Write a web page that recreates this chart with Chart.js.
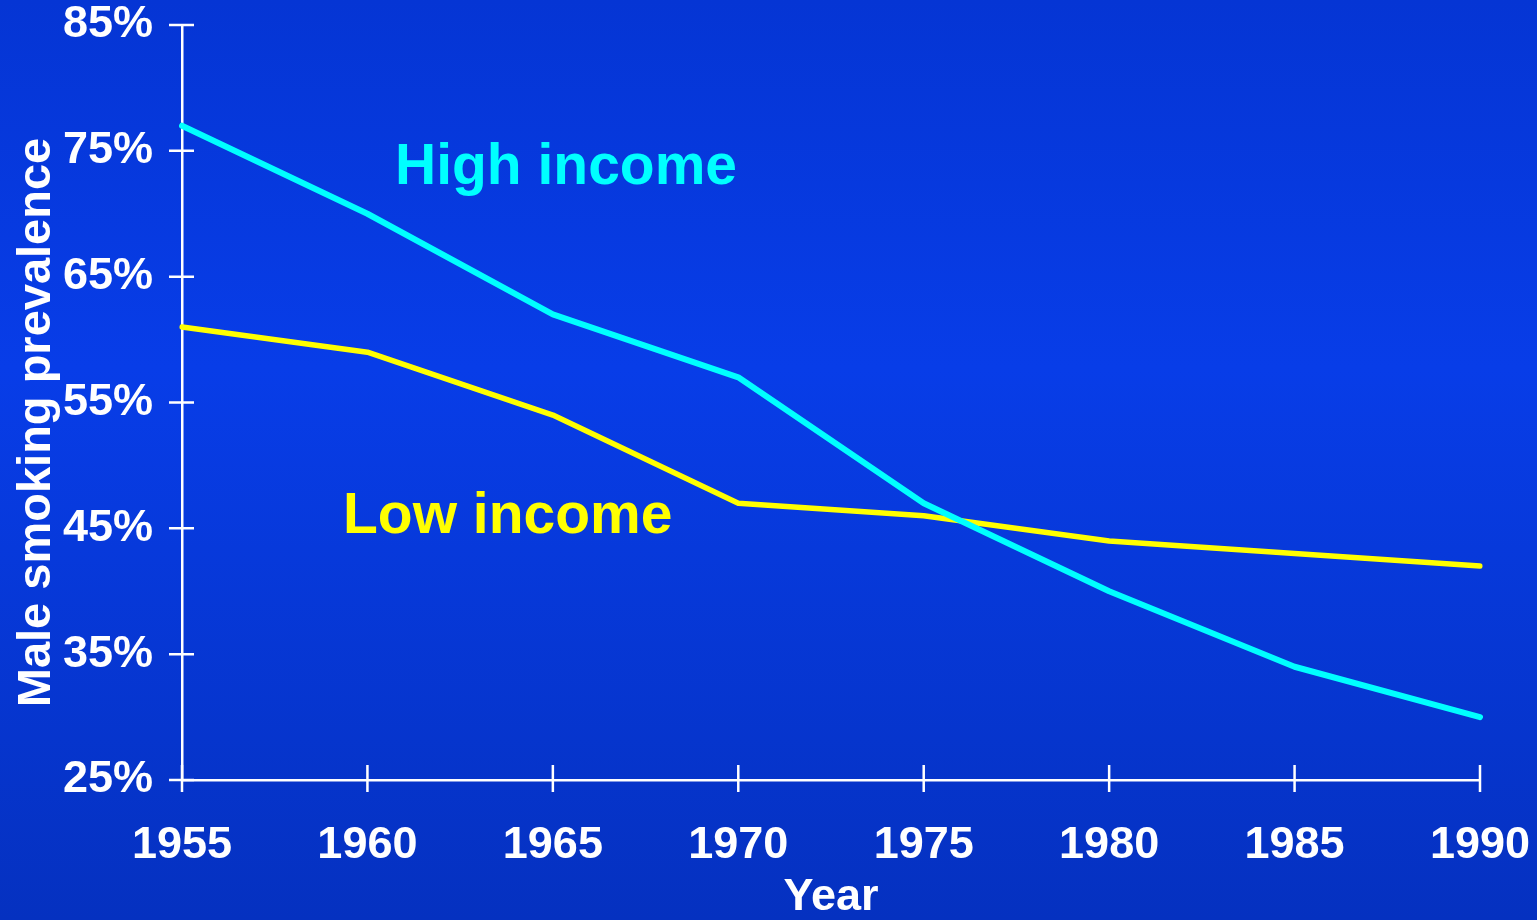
<!DOCTYPE html>
<html>
<head>
<meta charset="utf-8">
<script src="https://cdn.jsdelivr.net/npm/chart.js@4"></script>
<style>
  html, body { margin: 0; padding: 0; background: #0638d8; }
  #wrap { width: 1537px; height: 920px; position: relative; }
</style>
</head>
<body>
<div id="wrap"><canvas id="smokingChart"></canvas></div>
<script>
// Chart data
const years = ['1955', '1960', '1965', '1970', '1975', '1980', '1985', '1990'];
const highIncome = [77, 70, 62, 57, 47, 40, 34, 30];
const lowIncome = [61, 59, 54, 47, 46, 44, 43, 42];
const yTicks = [25, 35, 45, 55, 65, 75, 85];

const FONT = '"Liberation Sans", Arial, sans-serif';

// background gradient behind everything
const bgPlugin = {
    id: 'bg',
    beforeDraw(chart) {
        const ctx = chart.ctx;
        const g = ctx.createLinearGradient(0, 0, 0, chart.height);
        g.addColorStop(0, '#0535d4');
        g.addColorStop(0.4, '#083de8');
        g.addColorStop(1, '#0531c0');
        ctx.save();
        ctx.fillStyle = g;
        ctx.fillRect(0, 0, chart.width, chart.height);
        ctx.restore();
    }
};

// tick marks that cross the axis lines, plus the y title
const crossTicks = {
    id: 'crossTicks',
    afterDraw(chart) {
        const ctx = chart.ctx;
        const xs = chart.scales.x, ys = chart.scales.y;
        ctx.save();
        ctx.strokeStyle = '#ffffff';
        ctx.lineWidth = 2.5;
        ctx.beginPath();
        ys.ticks.forEach((t, i) => {
            const py = ys.getPixelForTick(i);
            ctx.moveTo(xs.left - 13, py);
            ctx.lineTo(xs.left + 12, py);
        });
        xs.ticks.forEach((t, i) => {
            const px = xs.getPixelForTick(i);
            ctx.moveTo(px, ys.bottom - 15);
            ctx.lineTo(px, ys.bottom + 12);
        });
        ctx.stroke();

        // y axis title
        ctx.translate(50, (ys.top + ys.bottom) / 2 + 20);
        ctx.rotate(-Math.PI / 2);
        ctx.fillStyle = '#ffffff';
        ctx.font = 'bold 47px ' + FONT;
        ctx.textAlign = 'center';
        ctx.textBaseline = 'alphabetic';
        ctx.fillText('Male smoking prevalence', 0, 0);
        ctx.restore();
    }
};

// series labels inside the plot
const seriesLabels = {
    id: 'seriesLabels',
    afterDatasetsDraw(chart) {
        const ctx = chart.ctx;
        ctx.save();
        ctx.font = 'bold 57px ' + FONT;
        ctx.textBaseline = 'alphabetic';
        ctx.textAlign = 'left';
        ctx.fillStyle = '#00ffff';
        ctx.fillText('High income', 395, 184);
        ctx.fillStyle = '#ffff00';
        ctx.fillText('Low income', 343, 533);
        ctx.restore();
    }
};

const ctx = document.getElementById('smokingChart');
new Chart(ctx, {
    type: 'line',
    data: {
        labels: years,
        datasets: [
            {
                label: 'High income',
                data: highIncome,
                borderColor: '#00ffff',
                borderWidth: 6,
                pointRadius: 0,
                borderCapStyle: 'round',
                borderJoinStyle: 'round',
                tension: 0
            },
            {
                label: 'Low income',
                data: lowIncome,
                borderColor: '#ffff00',
                borderWidth: 5.5,
                pointRadius: 0,
                borderCapStyle: 'round',
                borderJoinStyle: 'round',
                tension: 0
            }
        ]
    },
    options: {
        responsive: true,
        maintainAspectRatio: false,
        animation: false,
        layout: {
            padding: { left: 0, top: 25, right: 57, bottom: 0 }
        },
        plugins: {
            legend: { display: false },
            tooltip: { enabled: false },
            title: { display: false }
        },
        scales: {
            x: {
                type: 'category',
                offset: false,
                afterFit(scale) {
                    scale.height = 140;
                    scale.paddingLeft = 0;
                    scale.paddingRight = 0;
                },
                grid: { display: false, drawTicks: false },
                border: { display: true, color: '#ffffff', width: 2.5 },
                ticks: {
                    color: '#ffffff',
                    padding: 39,
                    maxRotation: 0,
                    autoSkip: false,
                    font: { family: FONT, size: 45, weight: 'bold' }
                },
                title: {
                    display: true,
                    text: 'Year',
                    color: '#ffffff',
                    padding: { top: 0, bottom: 0 },
                    font: { family: FONT, size: 45, weight: 'bold', lineHeight: 1 }
                }
            },
            y: {
                min: 25,
                max: 85,
                afterFit(scale) {
                    scale.width = 182;
                    scale.paddingTop = 0;
                    scale.paddingBottom = 0;
                },
                afterBuildTicks(scale) {
                    scale.ticks = yTicks.map(v => ({ value: v }));
                },
                grid: { display: false, drawTicks: false },
                border: { display: true, color: '#ffffff', width: 2.5 },
                ticks: {
                    color: '#ffffff',
                    padding: 29,
                    font: { family: FONT, size: 45, weight: 'bold' },
                    callback: v => v + '%'
                },
                title: { display: false }
            }
        }
    },
    plugins: [bgPlugin, crossTicks, seriesLabels]
});
</script>
</body>
</html>
